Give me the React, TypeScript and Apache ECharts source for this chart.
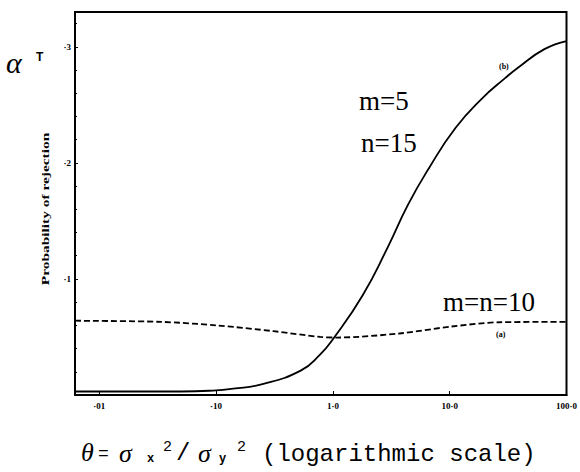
import React, { useEffect, useRef } from 'react';
import * as echarts from 'echarts';

// curve (b): m=5, n=15
const thetaB = [0.0062, 0.02, 0.05, 0.1, 0.14, 0.24, 0.53, 0.78, 1.0, 1.8, 2.94, 4.4, 6.6, 11.2, 18.7, 29.8, 38.4, 64.7, 100];
const probB = [0.003, 0.003, 0.003, 0.004, 0.0055, 0.009, 0.021, 0.035, 0.048, 0.086, 0.127, 0.164, 0.195, 0.23, 0.255, 0.273, 0.282, 0.298, 0.305];

// curve (a): m=n=10
const thetaA = [0.0062, 0.034, 0.1, 0.31, 0.78, 1.08, 3.7, 10.3, 27, 100];
const probA = [0.064, 0.063, 0.06, 0.055, 0.05, 0.0495, 0.053, 0.059, 0.0627, 0.063];

const xTickValues = [0.01, 0.1, 1, 10, 100];
const xTickLabels = ['·01', '·10', '1·0', '10·0', '100·0'];
const yTickValues = [0.1, 0.2, 0.3];
const yTickLabels = ['·1', '·2', '·3'];

const MONO = '"Liberation Mono", monospace';
const SERIF = '"Liberation Serif", serif';

export default function App() {
  const ref = useRef<HTMLDivElement>(null);
  useEffect(() => {
    const chart = echarts.init(ref.current!, null, { renderer: 'svg' });
    const txt = (x: number, y: number, text: string, font: string, extra: any = {}) => ({
      type: 'text',
      x,
      y,
      ...extra,
      style: { text, font, fill: '#000', textAlign: 'left', textVerticalAlign: 'middle', ...(extra.style || {}) },
    });
    chart.setOption({
      animation: false,
      backgroundColor: '#fff',
      grid: {
        left: 75,
        right: 8,
        top: 12,
        bottom: 77,
        show: true,
        borderColor: '#000',
        borderWidth: 2,
        backgroundColor: 'transparent',
      },
      xAxis: {
        type: 'log',
        min: 0.0062,
        max: 100,
        logBase: 10,
        axisLine: { show: true, lineStyle: { color: '#000', width: 2 } },
        axisTick: { show: true, inside: true, length: 4, lineStyle: { color: '#000' } },
        splitLine: { show: false },
        axisLabel: {
          showMinLabel: false,
          margin: 6,
          color: '#000',
          fontFamily: SERIF,
          fontWeight: 'bold',
          fontSize: 9,
          formatter: (v: number) => {
            const i = xTickValues.findIndex((t) => Math.abs(Math.log10(v) - Math.log10(t)) < 1e-6);
            return i >= 0 ? xTickLabels[i] : '';
          },
        },
      },
      yAxis: {
        type: 'value',
        min: 0,
        max: 0.33,
        interval: 0.1,
        axisLine: { show: true, lineStyle: { color: '#000', width: 2 } },
        axisTick: { show: true, inside: true, length: 3, lineStyle: { color: '#000' } },
        minorTick: { show: true, splitNumber: 5, length: 2, lineStyle: { color: '#000' } },
        splitLine: { show: false },
        axisLabel: {
          showMinLabel: false,
          showMaxLabel: false,
          margin: 4,
          color: '#000',
          fontFamily: SERIF,
          fontWeight: 'bold',
          fontSize: 9,
          formatter: (v: number) => {
            const i = yTickValues.findIndex((t) => Math.abs(v - t) < 1e-6);
            return i >= 0 ? yTickLabels[i] : '';
          },
        },
      },
      series: [
        {
          name: '(b) m=5, n=15',
          type: 'line',
          data: thetaB.map((t, i) => [t, probB[i]]),
          smooth: 0.5,
          showSymbol: false,
          lineStyle: { color: '#000', width: 1.8 },
        },
        {
          name: '(a) m=n=10',
          type: 'line',
          data: thetaA.map((t, i) => [t, probA[i]]),
          smooth: 0.3,
          showSymbol: false,
          lineStyle: { color: '#000', width: 1.8, type: [6, 3] },
        },
      ],
      graphic: [
        txt(6, 62, 'α', 'italic 30px ' + SERIF),
        txt(36, 57, 'T', 'bold 12px "Liberation Sans", sans-serif'),
        {
          type: 'text',
          x: 45,
          y: 209,
          rotation: Math.PI / 2,
          scaleX: 1.4,
          style: {
            text: 'Probability of rejection',
            font: 'bold 11px ' + SERIF,
            fill: '#000',
            textAlign: 'center',
            textVerticalAlign: 'middle',
          },
        },
        txt(359, 101, 'm=5', '27px ' + SERIF),
        txt(361, 143, 'n=15', '27px ' + SERIF),
        txt(443, 302, 'm=n=10', '27px ' + SERIF),
        txt(499, 66, '(b)', 'bold 8px ' + SERIF),
        txt(496, 334, '(a)', 'bold 8px ' + SERIF),
        // x-axis title
        txt(81, 452, 'θ', 'italic 26px ' + SERIF),
        txt(98, 454, '=', '18px ' + MONO),
        txt(119, 453, 'σ', 'italic 26px ' + SERIF),
        txt(147, 459, 'x', 'bold 12px ' + MONO),
        txt(163, 447, '2', '15px ' + MONO),
        txt(176, 453, '/', '24px ' + MONO),
        txt(198, 453, 'σ', 'italic 26px ' + SERIF),
        txt(219, 459, 'y', 'bold 12px ' + MONO),
        txt(237, 447, '2', '15px ' + MONO),
        txt(262, 454, '(logarithmic scale)', '24px ' + MONO),
      ],
    });
    return () => chart.dispose();
  }, []);
  return <div ref={ref} style={{ position: 'absolute', left: 0, top: 0, width: 580, height: 472 }} />;
}
